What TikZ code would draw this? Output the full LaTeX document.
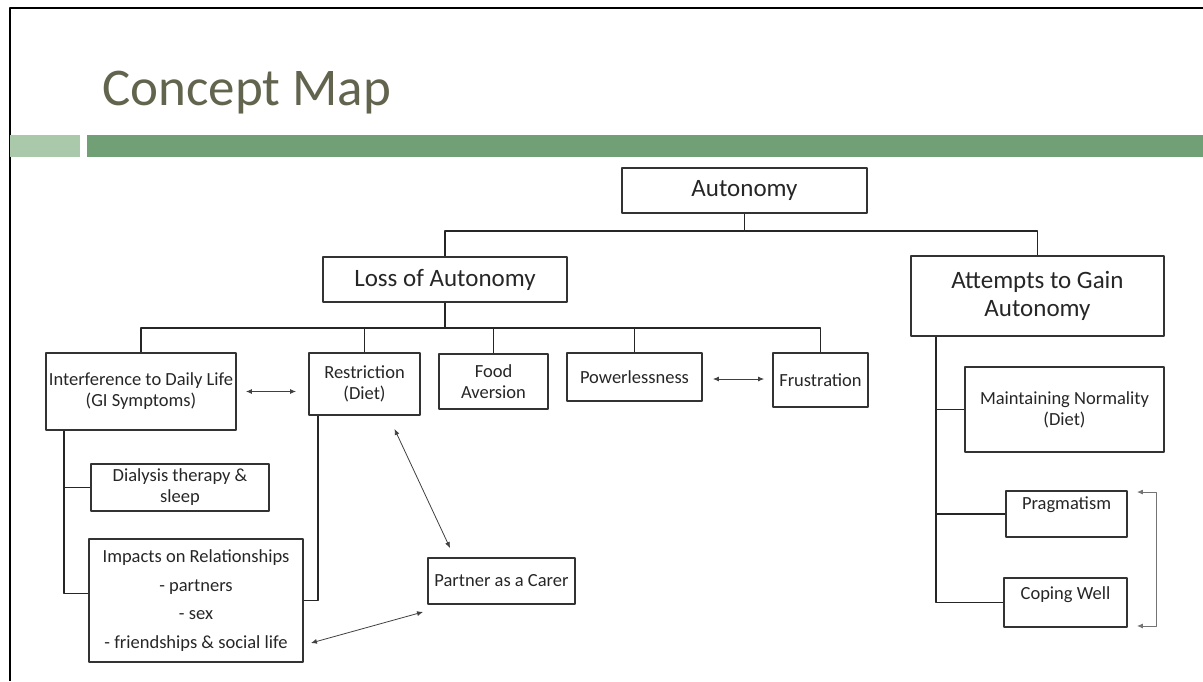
\documentclass[tikz,border=0pt]{standalone}
\usepackage{fontspec}
\setmainfont{Carlito}
\usetikzlibrary{arrows.meta}
\definecolor{titlegray}{RGB}{98,100,78}
\definecolor{bardark}{RGB}{113,160,118}
\definecolor{barlight}{RGB}{170,200,170}
\begin{document}
\begin{tikzpicture}[x=1pt,y=-1pt,>={Latex[length=6pt,width=5pt]},line join=round,
		box/.style={draw=black!80,line width=1.9pt,text=black!85,inner sep=1pt,align=center,font=\fsmall},
		bigbox/.style={box,font=\fbig},
		link/.style={draw=black!85,line width=1.8pt},
		arr/.style={<->,draw=black!75,line width=0.8pt}]
			\def\fbig{\fontsize{25}{28}\selectfont}
			\def\fsmall{\fontsize{18.5}{21}\selectfont}
			\useasboundingbox (0,0) rectangle (1203,681);
			% slide frame and title
			\draw[line width=2pt] (10,681) -- (10,8) -- (1203,8);
			\fill[barlight] (10,135) rectangle (80,157);
			\fill[bardark] (87,135) rectangle (1203,157);
			\node[anchor=base west,inner sep=0pt,text=titlegray,font=\fontsize{53}{60}\selectfont] (title) at (102,105) {Concept Map};
			% levels 1 and 2
			\node[bigbox,minimum width=245pt,minimum height=45pt] (auto) at (744.5,190.5) {Autonomy};
			\node[bigbox,minimum width=244pt,minimum height=45pt] (loss) at (445,279.5) {Loss of Autonomy};
			\node[bigbox,minimum width=253pt,minimum height=80pt,font=\fontsize{25}{28}\selectfont] (att) at (1037.5,296) {Attempts to Gain\\Autonomy};
			\draw[link] (auto.south) -- ++(0,17) -| (loss.north);
			\draw[link] (auto.south) -- ++(0,17) -| (att.north);
			% loss of autonomy
			\node[box,minimum width=190pt,minimum height=77pt] (inter) at (141,391.5) {Interference to Daily Life\\(GI Symptoms)};
			\node[box,minimum width=111pt,minimum height=62pt] (restr) at (364.5,384) {Restriction\\(Diet)};
			\node[box,minimum width=109pt,minimum height=55pt] (food) at (493.5,381.5) {Food\\Aversion};
			\node[box,minimum width=135pt,minimum height=48pt] (power) at (634.5,377) {Powerlessness};
			\node[box,minimum width=95pt,minimum height=54pt] (frust) at (820.5,380) {Frustration};
			\foreach \c in {inter,restr,food,power,frust}
				\draw[link] (loss.south) -- ++(0,25) -| (\c.north);
			\node[box,minimum width=178pt,minimum height=47pt] (dial) at (180,487.5) {Dialysis therapy \&\\sleep};
			\node[box,minimum width=214pt,minimum height=123pt,font=\fontsize{18.5}{28.5}\selectfont] (imp) at (196,600.5) {Impacts on Relationships\\- partners\\- sex\\- friendships \& social life};
			\node[box,minimum width=147pt,minimum height=46pt] (partner) at (501.5,581) {Partner as a Carer};
			\draw[link] ([xshift=19pt]inter.south west) |- (dial.west);
			\draw[link] ([xshift=19pt]inter.south west) |- ([yshift=7pt]imp.west);
			\draw[link] ([xshift=10pt]restr.south west) |- (imp.east);
			\draw[arr,shorten <=9pt,shorten >=12pt] (inter.east) -- (inter.east -| restr.west);
			\draw[arr,shorten <=10pt,shorten >=8pt] ([yshift=-2pt]power.east) -- ([yshift=-2pt]power.east -| frust.west);
			\draw[arr] ([xshift=30pt,yshift=-13pt]restr.south) -- ([xshift=23pt,yshift=9pt]partner.north west);
			\draw[arr] ([xshift=7pt,yshift=-42.5pt]imp.east) -- ([xshift=-4pt,yshift=-7pt]partner.south west);
			% attempts to gain autonomy
			\node[box,minimum width=199pt,minimum height=85pt] (maint) at (1064.5,409.5) {Maintaining Normality\\(Diet)};
			\node[box,minimum width=121pt,minimum height=46pt,text height=15pt,text depth=25pt] (prag) at (1066.5,514) {Pragmatism};
			\node[box,minimum width=123pt,minimum height=49pt,text height=18pt,text depth=25pt] (cope) at (1065.5,602.5) {Coping Well};
			\foreach \c in {maint,prag,cope}
				\draw[link] ([xshift=26pt]att.south west) |- (\c.west);
			\draw[arr,draw=black!55] ([xshift=9pt,yshift=-2pt]prag.north east) -- ++(19,0) |- ([xshift=9pt,yshift=2pt]cope.south east);
		\end{tikzpicture}
\end{document}
